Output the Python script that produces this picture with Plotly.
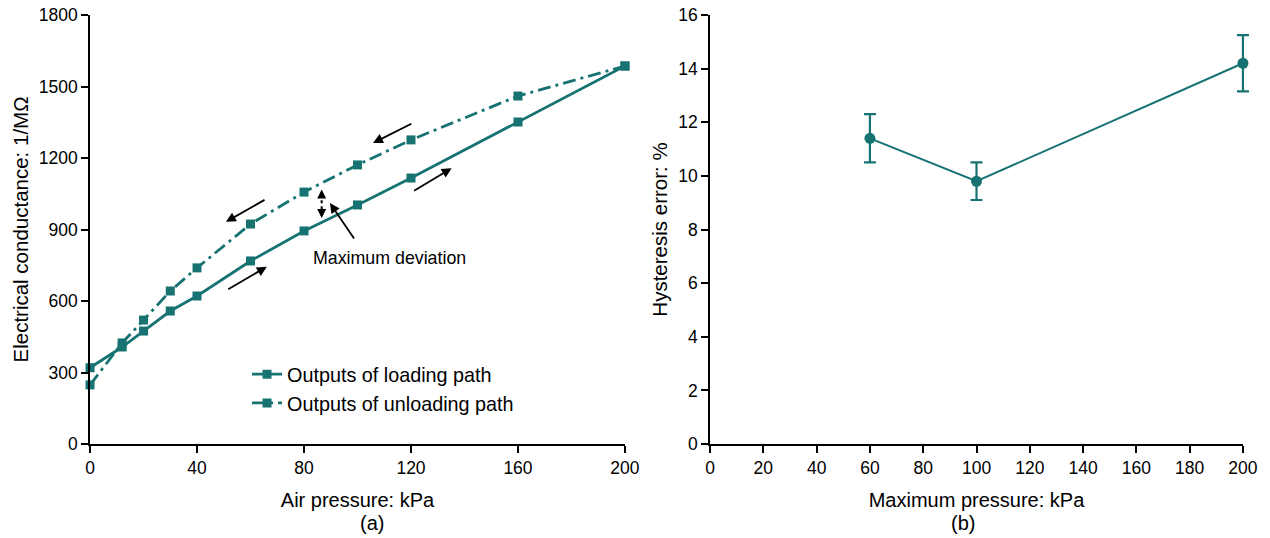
import plotly.graph_objects as go

# ---- data ----
pressure = [0, 12, 20, 30, 40, 60, 80, 100, 120, 160, 200]
loading = [320, 407, 474, 558, 621, 768, 894, 1003, 1116, 1351, 1586]
unloading = [248, 424, 520, 642, 739, 923, 1057, 1171, 1276, 1460, 1586]

max_pressure = [60, 100, 200]
hyst_error = [11.4, 9.8, 14.2]
hyst_err_bar = [0.9, 0.7, 1.05]

TEAL = "#177372"
FONT = "Liberation Sans, Arial, sans-serif"

# right panel geometry (paper fractions)
R0, R1 = 0.5591, 0.9787
PAD = 12 / 1270
ppu = (R1 - R0) * 1270 / 200.0
ext = 12 / ppu

fig = go.Figure()

fig.add_trace(go.Scatter(
    x=pressure, y=loading, mode="lines+markers", name="Outputs of loading path",
    line=dict(color=TEAL, width=2.8),
    marker=dict(symbol="square", size=9, color=TEAL),
    cliponaxis=False, xaxis="x", yaxis="y"))
fig.add_trace(go.Scatter(
    x=pressure, y=unloading, mode="lines+markers", name="Outputs of unloading path",
    line=dict(color=TEAL, width=2.8, dash="13px,5px,3px,5px"),
    marker=dict(symbol="square", size=9, color=TEAL),
    cliponaxis=False, xaxis="x", yaxis="y"))

# empty trace so that the right-hand axes form their own subplot
fig.add_trace(go.Scatter(x=[], y=[], showlegend=False, hoverinfo="skip",
                         xaxis="x2", yaxis="y2"))

fig.add_trace(go.Scatter(
    x=max_pressure, y=hyst_error, mode="lines+markers", showlegend=False,
    line=dict(color=TEAL, width=2),
    marker=dict(symbol="circle", size=11, color=TEAL),
    error_y=dict(type="data", array=hyst_err_bar, color=TEAL, thickness=2.2, width=6),
    cliponaxis=False, xaxis="x3", yaxis="y2"))

axis_common = dict(
    showline=True, linecolor="black", linewidth=1.5, ticks="outside", ticklen=7,
    tickwidth=1.5, tickcolor="black", showgrid=False, zeroline=False, automargin=False,
    tickfont=dict(family=FONT, size=17.5, color="black"),
)

fig.update_layout(
    width=1270, height=538,
    margin=dict(l=0, r=0, t=15, b=94),
    paper_bgcolor="white", plot_bgcolor="rgba(0,0,0,0)",
    font=dict(family=FONT, color="black"),
    xaxis=dict(domain=[0.0709, 0.4921], range=[0, 200], tickvals=[0, 40, 80, 120, 160, 200],
               title=dict(text="Air pressure: kPa", font=dict(size=20), standoff=16),
               anchor="y", **axis_common),
    yaxis=dict(domain=[0, 1], range=[0, 1800], tickvals=[0, 300, 600, 900, 1200, 1500, 1800],
               title=dict(text="Electrical conductance: 1/MΩ", font=dict(size=20.5), standoff=5),
               anchor="x", **axis_common),
    xaxis2=dict(domain=[R0, R1], range=[0, 200], tickvals=list(range(0, 201, 20)),
                title=dict(text="Maximum pressure: kPa", font=dict(size=20), standoff=16),
                anchor="y2", **axis_common),
    yaxis2=dict(domain=[0, 1], range=[0, 16], tickvals=list(range(0, 17, 2)),
                title=dict(text="Hysteresis error: %", font=dict(size=20.5), standoff=5),
                anchor="x2", **axis_common),
    xaxis3=dict(domain=[R0 - PAD, R1 + PAD], range=[-ext, 200 + ext], visible=False,
                anchor="y2", automargin=False),
    legend=dict(x=0.1945, y=0.208, xanchor="left", yanchor="top",
                font=dict(family=FONT, size=19.8, color="black"),
                bgcolor="rgba(0,0,0,0)", tracegroupgap=0),
    showlegend=True,
)

ann = []
# direction arrows (axis coordinates)
arrows = [
    (120.7, 1347, 105.8, 1263),
    (120.6, 1059, 135.2, 1157),
    (65.8, 1028, 50.8, 932),
    (51.1, 646, 66.1, 744),
    (99.1, 856, 89.7, 1011),
]
for tx, ty, hx, hy in arrows:
    ann.append(dict(x=hx, y=hy, ax=tx, ay=ty, xref="x", yref="y", axref="x", ayref="y",
                    showarrow=True, arrowhead=2, arrowsize=1.1, arrowwidth=1.8,
                    arrowcolor="black", text=""))
# dotted double arrow heads
ann.append(dict(x=86.6, y=1068, ax=0, ay=6, xref="x", yref="y", showarrow=True,
                arrowhead=2, arrowsize=1, arrowwidth=1.8, arrowcolor="black", text=""))
ann.append(dict(x=86.6, y=948, ax=0, ay=-6, xref="x", yref="y", showarrow=True,
                arrowhead=2, arrowsize=1, arrowwidth=1.8, arrowcolor="black", text=""))
ann.append(dict(x=112.1, y=780, xref="x", yref="y", text="Maximum deviation", showarrow=False,
                font=dict(family=FONT, size=17.8, color="black")))
# panel labels
ann.append(dict(x=(0.0709 + 0.4921) / 2, y=-0.184, xref="paper", yref="paper", text="(a)",
                showarrow=False, yanchor="middle", font=dict(family=FONT, size=20, color="black")))
ann.append(dict(x=(R0 + R1) / 2, y=-0.184, xref="paper", yref="paper", text="(b)",
                showarrow=False, yanchor="middle", font=dict(family=FONT, size=20, color="black")))
fig.update_layout(annotations=ann)

fig.add_shape(type="line", x0=86.6, x1=86.6, y0=960, y1=1058, xref="x", yref="y",
              line=dict(color="black", width=2, dash="dot"))

fig.write_html("out.html")
